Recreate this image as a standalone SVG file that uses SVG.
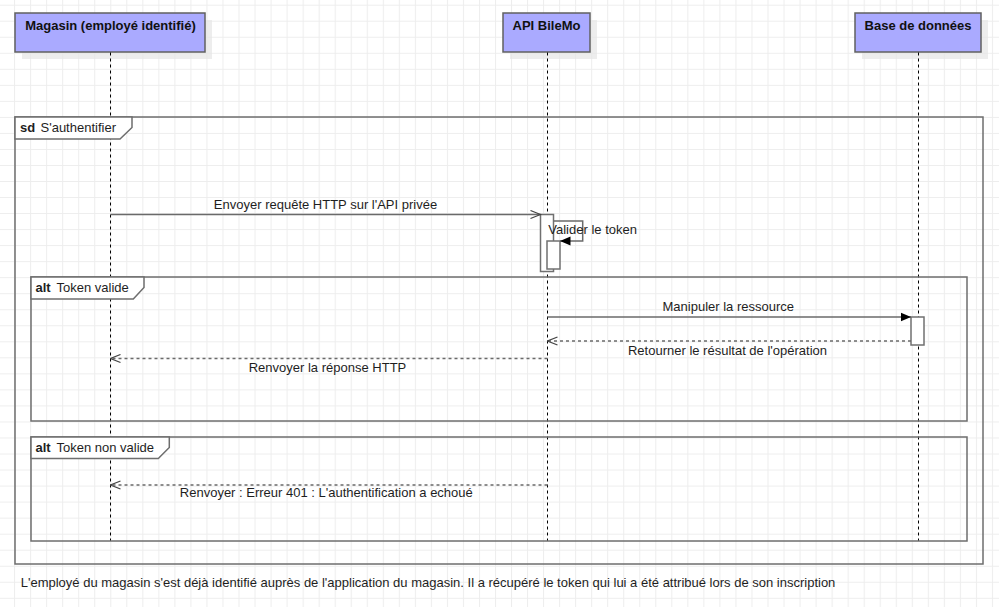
<svg xmlns="http://www.w3.org/2000/svg" width="999" height="607" viewBox="0 0 999 607">
  <defs>
    <pattern id="grid" x="14.1" y="4.7" width="16.03" height="16.03" patternUnits="userSpaceOnUse">
      <path d="M0 0.5 H16.03 M0.5 0 V16.03" stroke="#ededed" stroke-width="1" fill="none"/>
    </pattern>
    <marker id="open" viewBox="0 0 12 10" refX="11" refY="5" markerWidth="12" markerHeight="10" markerUnits="userSpaceOnUse" orient="auto">
      <path d="M1 1 L11 5 L1 9" fill="none" stroke="#444" stroke-width="1.2"/>
    </marker>
    <marker id="filled" viewBox="0 0 11 10" refX="10.5" refY="5" markerWidth="11" markerHeight="10" markerUnits="userSpaceOnUse" orient="auto">
      <path d="M0 0.5 L10.5 5 L0 9.5 Z" fill="#000" stroke="none"/>
    </marker>
  </defs>
  <style>
    text { font-family: "Liberation Sans", Arial, sans-serif; font-size: 13px; fill: #1e1e1e; }
    .head { fill: #aaaaff; stroke: #606060; stroke-width: 1.5; }
    .shadow { fill: #e6e6e6; opacity: 0.7; }
    .hl { font-weight: bold; text-anchor: middle; fill: #111; }
    .life { stroke: #000; stroke-width: 1; stroke-dasharray: 3 3; fill: none; }
    .frame { fill: none; stroke: #6e6e6e; stroke-width: 1.5; }
    .tag { fill: #fff; stroke: #6e6e6e; stroke-width: 1.5; }
    .b { font-weight: bold; }
    .act { fill: #fff; stroke: #707070; stroke-width: 1.5; }
    .msg { fill: none; stroke: #6a6a6a; stroke-width: 1.5; }
    .ret { fill: none; stroke: #6a6a6a; stroke-width: 1.5; stroke-dasharray: 3 3; }
    .ml { text-anchor: middle; }
  </style>
  <rect x="0" y="0" width="999" height="607" fill="#fff"/>
  <rect x="0" y="0" width="999" height="607" fill="url(#grid)"/>

  <g id="lifeline-magasin">
    <rect class="shadow" x="22" y="20" width="190" height="39"/>
    <rect class="head" x="15" y="13" width="190" height="39"/>
    <text class="hl" x="110.5" y="30">Magasin (employé identifié)</text>
    <line class="life" x1="110.5" y1="52.5" x2="110.5" y2="541"/>
  </g>
  <g id="lifeline-api">
    <rect class="shadow" x="510" y="20" width="87" height="39"/>
    <rect class="head" x="503" y="13" width="87" height="39"/>
    <text class="hl" x="546.5" y="30">API BileMo</text>
    <line class="life" x1="547.5" y1="52.5" x2="547.5" y2="541"/>
  </g>
  <g id="lifeline-db">
    <rect class="shadow" x="862" y="20" width="126" height="39"/>
    <rect class="head" x="855" y="13" width="126" height="39"/>
    <text class="hl" x="918" y="30">Base de données</text>
    <line class="life" x1="918.5" y1="52.5" x2="918.5" y2="541"/>
  </g>

  <g id="frame-sd">
    <rect class="frame" x="15" y="117" width="968" height="447"/>
    <path class="tag" d="M15 117 H132 V127.5 L120 139 H15 Z"/>
    <text x="20" y="132"><tspan class="b">sd</tspan><tspan x="40.5">S'authentifier</tspan></text>
  </g>
  <g id="frame-alt-valide">
    <rect class="frame" x="31" y="277" width="936" height="144"/>
    <path class="tag" d="M31 277 H144 V287.5 L133.3 299 H31 Z"/>
    <text x="35.5" y="292"><tspan class="b">alt</tspan><tspan x="56.5">Token valide</tspan></text>
  </g>
  <g id="frame-alt-nonvalide">
    <rect class="frame" x="31" y="437" width="936" height="104"/>
    <path class="tag" d="M31 437 H169.3 V447.5 L158.3 458.5 H31 Z"/>
    <text x="35.5" y="452"><tspan class="b">alt</tspan><tspan x="56.5">Token non valide</tspan></text>
  </g>

  <g id="activation-api">
    <rect class="act" x="540.5" y="214.5" width="13" height="57"/>
    <rect class="act" x="547" y="241" width="13" height="28"/>
  </g>
  <g id="activation-db">
    <rect class="act" x="911" y="317" width="13" height="28"/>
  </g>

  <g id="connectors">
    <line class="msg" x1="110.5" y1="214.5" x2="540.5" y2="214.5" marker-end="url(#open)"/>
    <text class="ml" x="325.5" y="209">Envoyer requête HTTP sur l'API privée</text>

    <path class="msg" d="M553.5 221 H582.7 V241 H560" marker-end="url(#filled)"/>
    <text x="548.3" y="234">Valider le token</text>

    <line class="msg" x1="547.5" y1="317" x2="911" y2="317" marker-end="url(#filled)"/>
    <text class="ml" x="728.3" y="310.5">Manipuler la ressource</text>

    <line class="ret" x1="911" y1="341" x2="547.5" y2="341" marker-end="url(#open)"/>
    <text class="ml" x="727.5" y="355">Retourner le résultat de l'opération</text>

    <line class="ret" x1="547.5" y1="358.5" x2="110.5" y2="358.5" marker-end="url(#open)"/>
    <text class="ml" x="327.5" y="371.5">Renvoyer la réponse HTTP</text>

    <line class="ret" x1="547.5" y1="485" x2="110.5" y2="485" marker-end="url(#open)"/>
    <text class="ml" x="326.3" y="497">Renvoyer : Erreur 401 : L'authentification a echoué</text>
  </g>

  <g id="note">
    <text x="20.7" y="587">L'employé du magasin s'est déjà identifié auprès de l'application du magasin. Il a récupéré le token qui lui a été attribué lors de son inscription</text>
  </g>
</svg>
